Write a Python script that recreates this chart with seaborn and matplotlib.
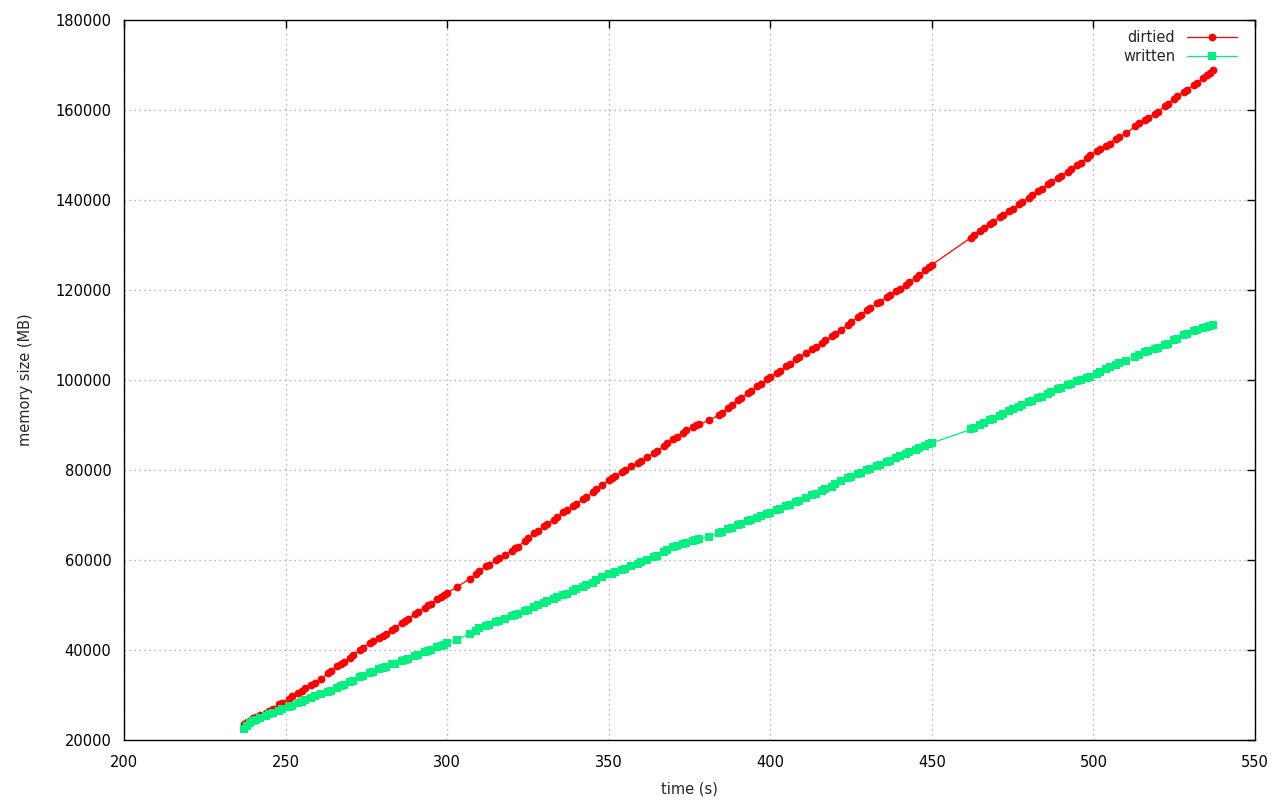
import matplotlib
matplotlib.use("Agg")
import matplotlib.pyplot as plt
import seaborn as sns
import pandas as pd

# ---- data ----
time_s = [237, 238, 239, 240, 241, 242, 244, 245, 246, 248, 249,
          251, 252, 254, 255, 256, 258, 259,
          261, 263, 264, 266, 267, 268, 270,
          271, 273, 274, 276, 277, 279, 280,
          281, 283, 284, 286, 287, 288, 290,
          291, 293, 294, 295, 297, 298, 299, 300,
          303, 307, 309, 310,
          312, 313, 315, 316, 318, 320,
          321, 322, 324, 325, 327, 328, 330,
          331, 333, 334, 336, 337, 339, 340,
          342, 343, 345, 346, 348, 350,
          351, 352, 354, 355, 357, 359, 360,
          362, 364, 365, 367, 368, 370,
          371, 373, 374, 376, 377, 378, 381,
          384, 385, 387, 388, 390, 391, 393, 394, 396, 397, 399, 400,
          402, 403, 405, 406, 408, 409, 411,
          413, 414, 416, 417, 419, 420,
          422, 424, 425, 427, 428, 430,
          431, 433, 434, 436, 437, 439, 440,
          442, 443, 445, 446, 448, 449, 450,
          462, 463, 465, 466, 468, 469, 471, 472, 474, 475, 477, 478,
          480, 481, 483, 484, 486, 487, 489, 490, 492, 493, 495, 496,
          498, 499, 501, 502, 504, 505, 507, 508, 510, 513, 514, 516,
          517, 519, 520, 522, 523, 525, 526, 528, 529, 531, 532, 534,
          535, 536, 537]

dirtied_mb = [23500, 23900, 24300, 24800, 25100, 25500, 26100, 26500, 27000, 27900, 28300,
              29200, 29700, 30500, 31000, 31600, 32300, 32700,
              33600, 34800, 35400, 36400, 36900, 37300, 38300,
              38900, 40000, 40500, 41500, 42000, 42700, 43200,
              43600, 44500, 45000, 46000, 46400, 47000, 48000,
              48500, 49400, 49900, 50300, 51300, 51800, 52200, 52700,
              54000, 55800, 57000, 57600,
              58600, 59000, 60000, 60400, 61200, 62000,
              62600, 63000, 64200, 64800, 65900, 66400, 67500,
              68000, 69000, 69500, 70600, 71000, 72000, 72500,
              73500, 74000, 75000, 75700, 76700, 77800,
              78200, 78700, 79500, 80000, 80800, 81600, 82000,
              82800, 83700, 84200, 85400, 85900, 86800,
              87300, 88300, 88800, 89500, 89900, 90200, 91000,
              92200, 92700, 93800, 94400, 95500, 96000, 97000, 97500, 98600, 99100, 100200, 100700,
              101500, 102000, 103000, 103600, 104600, 105000, 106000,
              106800, 107300, 108300, 108800, 109700, 110200,
              111200, 112300, 112800, 114000, 114500, 115500,
              116000, 117000, 117400, 118400, 118900, 119800, 120200,
              121200, 121700, 122700, 123300, 124400, 125000, 125600,
              131600, 132300, 133200, 133800, 134700, 135200, 136200, 136700, 137600, 138000, 139000, 139600,
              140500, 141000, 142000, 142500, 143500, 144000, 144900, 145300, 146300, 146900, 147800, 148300,
              149300, 149900, 150800, 151300, 152000, 152500, 153600, 154000, 154800, 156400, 157000, 157800,
              158200, 159200, 159600, 160800, 161400, 162500, 163000, 164000, 164500, 165600, 166000, 167200,
              167800, 168300, 168800]

written_mb = [22500, 23200, 23700, 24200, 24500, 24800, 25400, 25800, 26100, 26500, 26800,
              27300, 27600, 28200, 28500, 28800, 29400, 29700,
              30200, 30700, 31000, 31600, 31900, 32300, 33000,
              33200, 33900, 34200, 34800, 35100, 35700, 36000,
              36200, 36800, 37000, 37500, 37800, 38100, 38600,
              38900, 39500, 39800, 40000, 40600, 40900, 41200, 41500,
              42300, 43600, 44300, 44800,
              45300, 45600, 46300, 46500, 46900, 47500,
              47800, 48100, 48700, 49000, 49600, 49900, 50500,
              50800, 51400, 51700, 52300, 52500, 53200, 53500,
              54100, 54400, 55000, 55500, 56200, 56800,
              57000, 57300, 57700, 58000, 58600, 59200, 59500,
              60000, 60700, 61000, 61800, 62200, 63000,
              63200, 63600, 63800, 64200, 64500, 64700, 65200,
              66000, 66300, 66900, 67200, 67800, 68100, 68600, 68800, 69400, 69700, 70200, 70500,
              71100, 71400, 72000, 72300, 72900, 73200, 73800,
              74400, 74700, 75300, 75700, 76300, 76800,
              77500, 78200, 78500, 79100, 79400, 80000,
              80300, 80900, 81200, 81800, 82100, 82700, 83000,
              83600, 83900, 84500, 84800, 85400, 85700, 86000,
              89000, 89400, 90000, 90400, 91100, 91400, 92100, 92500, 93200, 93500, 94100, 94400,
              95000, 95300, 95900, 96200, 96900, 97300, 98000, 98300, 98900, 99200, 99800, 100000,
              100400, 100700, 101300, 101700, 102400, 102800, 103400, 103700, 104300, 105100, 105500, 106200,
              106400, 106900, 107200, 107800, 108100, 108800, 109200, 109900, 110200, 110800, 111000, 111500,
              111800, 112000, 112300]

x_ticks = [200, 250, 300, 350, 400, 450, 500, 550]
y_ticks = [20000, 40000, 60000, 80000, 100000, 120000, 140000, 160000, 180000]

assert len(time_s) == len(dirtied_mb) == len(written_mb), (len(time_s), len(dirtied_mb), len(written_mb))

df = pd.DataFrame({"time": time_s, "dirtied": dirtied_mb, "written": written_mb})

sns.set_style("white")
plt.rcParams["font.family"] = ["DejaVu Sans"]

fig = plt.figure(figsize=(12.8, 8.0), dpi=100)
ax = fig.add_axes([124 / 1280, 60 / 800, (1255 - 124) / 1280, 720 / 800])

red = "#ff0000"
green = "#00f080"

sns.lineplot(data=df, x="time", y="dirtied", ax=ax, color=red, linewidth=0.9,
             marker="o", markersize=5.6, markeredgewidth=0, sort=False,
             estimator=None, label="dirtied")
sns.lineplot(data=df, x="time", y="written", ax=ax, color=green, linewidth=0.9,
             marker="s", markersize=5.6, markeredgewidth=0, sort=False,
             estimator=None, label="written")

ax.set_xlim(200, 550)
ax.set_ylim(20000, 180000)
ax.set_xticks(x_ticks)
ax.set_yticks(y_ticks)
ax.set_xticklabels([str(v) for v in x_ticks])
ax.set_yticklabels([str(v) for v in y_ticks])

ax.grid(True, color="#a0a0a0", linestyle=(0, (1, 3)), linewidth=0.9)
ax.set_axisbelow(True)
for s in ax.spines.values():
    s.set_visible(True)
    s.set_color("black")
    s.set_linewidth(1.0)
ax.tick_params(direction="in", length=6, width=1, top=True, right=True,
               labelsize=10.5, colors="black")
ax.tick_params(axis="y", pad=9)
ax.tick_params(axis="x", pad=11)

ax.set_xlabel("time (s)", fontsize=10.5, labelpad=8)
ax.set_ylabel("memory size (MB)", fontsize=10.5, labelpad=16)

leg = ax.legend(loc="upper right", bbox_to_anchor=(1 - 12 / 1131, 1 - 3.8 / 720),
                borderaxespad=0, frameon=False, markerfirst=False,
                fontsize=10.5, handlelength=3.45, handletextpad=0.8,
                labelspacing=0.3)

fig.savefig("out.png", dpi=100)
